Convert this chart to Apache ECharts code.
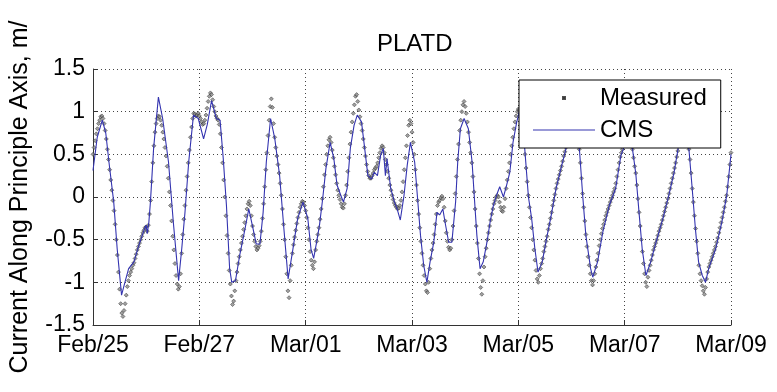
<!DOCTYPE html>
<html>
<head>
<meta charset="utf-8">
<script src="https://cdn.jsdelivr.net/npm/echarts@6/dist/echarts.min.js"></script>
<style>
html,body{margin:0;padding:0;background:#fff;}
#chart{width:777px;height:392px;}
</style>
</head>
<body>
<div id="chart"></div>
<script>
// ---- data (x = days since Feb/25 00:00) ----
const chartTitle = 'PLATD';
const yAxisTitle = 'Current Along Principle Axis, m/';
const xTickLabels = ['Feb/25', 'Feb/27', 'Mar/01', 'Mar/03', 'Mar/05', 'Mar/07', 'Mar/09'];
const seriesNames = ['Measured', 'CMS'];

// Measured: half-hourly samples, starting Feb/25 00:00
const measuredStartDay = 0;
const measuredStepDays = 1 / 48;
const measuredFeb25 = [0.50,0.58,0.66,0.74,0.80,0.86,0.90,0.94,0.95,0.92,0.86,0.78,0.68,0.56,0.44,0.32,0.20,0.08,-0.04,-0.16,-0.32,-0.50,-0.68,-0.88,-1.08,-1.25,-1.36,-1.40,-1.33,-1.25,-1.15,-1.05,-0.98,-0.92,-0.88,-0.84,-0.80,-0.77,-0.72,-0.67,-0.62,-0.58,-0.54,-0.50,-0.46,-0.42,-0.39,-0.36];
const measuredFeb26 = [-0.35,-0.40,-0.33,-0.20,-0.04,0.18,0.40,0.60,0.76,0.86,0.92,0.95,0.94,0.90,0.84,0.76,0.68,0.58,0.48,0.36,0.22,0.06,-0.10,-0.28,-0.46,-0.62,-0.78,-0.92,-1.02,-1.08,-1.05,-0.90,-0.66,-0.44,-0.26,-0.10,0.08,0.24,0.40,0.55,0.70,0.82,0.92,0.98,0.97,0.95,0.96,0.98];
const measuredFeb27 = [0.95,0.92,0.88,0.85,0.86,0.90,0.96,1.04,1.12,1.18,1.22,1.20,1.14,1.06,1.00,0.95,0.92,0.90,0.85,0.74,0.58,0.40,0.20,0.00,-0.22,-0.45,-0.66,-0.86,-1.02,-1.16,-1.26,-1.22,-1.10,-0.98,-0.88,-0.78,-0.70,-0.62,-0.54,-0.46,-0.38,-0.30,-0.22,-0.14,-0.08,-0.05,-0.10,-0.22];
const measuredFeb28 = [-0.34,-0.44,-0.52,-0.58,-0.62,-0.60,-0.57,-0.52,-0.40,-0.25,-0.08,0.12,0.32,0.52,0.72,0.90,1.06,1.15,1.05,0.86,0.70,0.58,0.48,0.38,0.28,0.16,0.02,-0.14,-0.32,-0.50,-0.70,-0.90,-1.10,-1.18,-0.98,-0.80,-0.66,-0.56,-0.47,-0.39,-0.31,-0.24,-0.18,-0.12,-0.08,-0.05,-0.06,-0.10];
const measuredMar01 = [-0.16,-0.24,-0.36,-0.50,-0.64,-0.74,-0.80,-0.84,-0.76,-0.62,-0.52,-0.44,-0.36,-0.26,-0.14,-0.02,0.12,0.26,0.38,0.50,0.60,0.67,0.70,0.64,0.55,0.46,0.36,0.26,0.16,0.08,0.02,-0.03,-0.08,-0.12,-0.13,-0.08,0.02,0.14,0.30,0.46,0.62,0.76,0.88,0.98,1.08,1.18,1.20,1.12];
const measuredMar02 = [1.02,0.94,0.86,0.78,0.68,0.58,0.48,0.38,0.30,0.25,0.22,0.22,0.25,0.28,0.32,0.34,0.36,0.40,0.46,0.52,0.57,0.60,0.58,0.52,0.44,0.38,0.30,0.22,0.14,0.08,0.02,-0.03,-0.07,-0.10,-0.12,-0.14,-0.13,-0.10,-0.04,0.06,0.18,0.32,0.46,0.60,0.72,0.84,0.90,0.86];
const measuredMar03 = [0.76,0.64,0.50,0.32,0.14,-0.04,-0.20,-0.36,-0.52,-0.66,-0.80,-0.92,-1.02,-1.10,-1.12,-1.00,-0.84,-0.72,-0.62,-0.54,-0.44,-0.32,-0.20,-0.10,-0.06,-0.04,-0.01,0.01,-0.02,-0.12,-0.28,-0.42,-0.52,-0.59,-0.62,-0.60,-0.50,-0.34,-0.16,0.04,0.24,0.44,0.62,0.78,0.90,1.00,1.08,1.12];
const measuredMar04 = [1.06,0.98,0.88,0.76,0.64,0.52,0.40,0.24,0.06,-0.14,-0.34,-0.54,-0.72,-0.90,-1.06,-1.14,-0.98,-0.82,-0.70,-0.60,-0.50,-0.42,-0.34,-0.27,-0.20,-0.14,-0.08,-0.04,0.00,0.02,0.00,-0.06,-0.12,-0.16,-0.17,-0.12,-0.02,0.10,0.20,0.30,0.40,0.50,0.60,0.70,0.80,0.88,0.95,1.00];
const measuredMar05 = [1.03,1.02,0.96,0.86,0.74,0.62,0.50,0.34,0.18,0.02,-0.12,-0.24,-0.36,-0.50,-0.62,-0.74,-0.86,-0.96,-1.00,-0.92,-0.84,-0.78,-0.72,-0.64,-0.58,-0.52,-0.46,-0.38,-0.32,-0.25,-0.18,-0.10,-0.04,0.03,0.10,0.16,0.21,0.26,0.31,0.36,0.42,0.48,0.53,0.58,0.66,0.74,0.80,0.85];
const measuredMar06 = [0.88,0.90,0.88,0.84,0.78,0.72,0.64,0.56,0.40,0.22,0.04,-0.12,-0.28,-0.44,-0.58,-0.70,-0.80,-0.90,-0.98,-1.03,-0.98,-0.90,-0.82,-0.74,-0.66,-0.57,-0.50,-0.43,-0.37,-0.32,-0.27,-0.22,-0.18,-0.14,-0.10,-0.06,-0.02,0.02,0.06,0.10,0.16,0.24,0.32,0.40,0.47,0.52,0.56,0.62];
const measuredMar07 = [0.72,0.82,0.88,0.88,0.84,0.76,0.66,0.56,0.46,0.36,0.28,0.14,-0.02,-0.18,-0.34,-0.50,-0.64,-0.78,-0.90,-1.00,-1.05,-0.94,-0.86,-0.80,-0.74,-0.68,-0.62,-0.58,-0.54,-0.50,-0.45,-0.40,-0.36,-0.32,-0.27,-0.22,-0.17,-0.12,-0.07,-0.02,0.04,0.10,0.16,0.22,0.28,0.34,0.40,0.47];
const measuredMar08 = [0.54,0.62,0.72,0.80,0.84,0.84,0.80,0.74,0.68,0.62,0.56,0.44,0.28,0.10,-0.06,-0.22,-0.37,-0.52,-0.66,-0.80,-0.90,-0.98,-1.04,-1.10,-1.14,-1.06,-0.96,-0.88,-0.82,-0.78,-0.74,-0.70,-0.66,-0.62,-0.58,-0.53,-0.48,-0.42,-0.36,-0.30,-0.24,-0.18,-0.12,-0.05,0.02,0.12,0.24,0.38];
const measuredMar09 = [0.52];

// CMS model: [day, value]
const cmsPoints = [
[0.00,0.31],[0.08,0.70],[0.175,0.90],[0.24,0.75],[0.30,0.41],[0.39,-0.06],[0.455,-0.61],[0.537,-1.15],[0.60,-1.00],[0.67,-0.84],[0.77,-0.76],[0.86,-0.57],[0.97,-0.37],[1.00,-0.33],[1.02,-0.43],[1.05,-0.30],[1.08,-0.06],[1.14,0.57],[1.23,1.17],[1.31,0.92],[1.42,0.41],[1.51,-0.29],[1.61,-0.98],[1.67,-0.60],[1.73,-0.18],[1.80,0.41],[1.89,0.96],[1.98,0.92],[2.08,0.68],[2.15,0.85],[2.23,1.13],[2.32,0.92],[2.39,0.90],[2.45,0.45],[2.51,-0.10],[2.57,-0.84],[2.61,-1.00],[2.68,-0.98],[2.76,-0.68],[2.86,-0.37],[2.93,-0.14],[3.01,-0.37],[3.07,-0.55],[3.14,-0.55],[3.20,-0.18],[3.26,0.41],[3.34,0.92],[3.42,0.68],[3.51,0.25],[3.59,-0.37],[3.67,-0.96],[3.76,-0.61],[3.85,-0.25],[3.95,-0.06],[4.04,-0.25],[4.10,-0.61],[4.15,-0.72],[4.20,-0.55],[4.26,-0.33],[4.32,-0.02],[4.38,0.33],[4.46,0.64],[4.53,0.45],[4.59,0.14],[4.66,0.02],[4.71,-0.06],[4.78,0.10],[4.84,0.57],[4.91,0.84],[4.97,0.96],[5.05,0.88],[5.11,0.57],[5.17,0.25],[5.24,0.21],[5.29,0.29],[5.35,0.25],[5.41,0.49],[5.46,0.57],[5.50,0.25],[5.53,0.45],[5.60,0.10],[5.67,-0.06],[5.72,-0.14],[5.78,-0.27],[5.85,0.02],[5.91,0.37],[5.97,0.64],[6.05,0.41],[6.10,0.02],[6.16,-0.45],[6.22,-0.80],[6.28,-1.00],[6.34,-0.76],[6.41,-0.53],[6.47,-0.18],[6.52,-0.21],[6.58,-0.14],[6.62,-0.29],[6.69,-0.53],[6.75,-0.53],[6.82,-0.06],[6.86,0.41],[6.91,0.80],[6.98,0.92],[7.06,0.80],[7.13,0.41],[7.17,0.02],[7.22,-0.45],[7.28,-0.84],[7.34,-0.76],[7.41,-0.53],[7.47,-0.29],[7.53,-0.10],[7.59,0.02],[7.65,0.12],[7.72,0.00],[7.78,0.14],[7.84,0.29],[7.90,0.64],[7.97,0.88],[8.03,1.02],[8.08,0.80],[8.12,0.57],[8.19,0.00],[8.25,-0.25],[8.31,-0.60],[8.37,-0.88],[8.45,-0.76],[8.53,-0.49],[8.62,-0.21],[8.71,0.10],[8.80,0.33],[8.89,0.55],[8.97,0.85],[9.04,0.88],[9.10,0.80],[9.15,0.55],[9.21,0.02],[9.27,-0.45],[9.36,-0.84],[9.40,-0.94],[9.49,-0.76],[9.59,-0.41],[9.71,-0.10],[9.83,0.10],[9.93,0.49],[9.98,0.57],[10.04,0.86],[10.10,0.80],[10.15,0.55],[10.21,0.27],[10.27,-0.18],[10.33,-0.61],[10.40,-0.92],[10.49,-0.76],[10.59,-0.53],[10.72,-0.25],[10.83,0.02],[10.93,0.29],[11.00,0.55],[11.07,0.85],[11.13,0.80],[11.21,0.55],[11.27,0.10],[11.33,-0.37],[11.39,-0.76],[11.46,-0.92],[11.52,-1.00],[11.58,-0.84],[11.71,-0.61],[11.83,-0.29],[11.92,0.02],[12.00,0.50]
];

// ---- build ----
const measuredValues = [].concat(measuredFeb25, measuredFeb26, measuredFeb27, measuredFeb28,
  measuredMar01, measuredMar02, measuredMar03, measuredMar04, measuredMar05, measuredMar06,
  measuredMar07, measuredMar08, measuredMar09);
const measuredData = measuredValues.map((v, i) => [measuredStartDay + i * measuredStepDays, v]);

const FONT = '"Liberation Sans", Arial, Helvetica, sans-serif';
const chart = echarts.init(document.getElementById('chart'), null, {renderer: 'canvas'});
chart.setOption({
  animation: false,
  backgroundColor: '#fff',
  textStyle: {fontFamily: FONT},
  title: {
    text: chartTitle, left: 372, top: 27,
    textStyle: {fontFamily: FONT, fontSize: 24, fontWeight: 'normal', color: '#000'}
  },
  grid: {left: 90, right: 46, top: 69, bottom: 67, containLabel: false},
  legend: {
    orient: 'vertical', left: 519, top: 80,
    padding: [6, 14, 6, 13], itemGap: 8, itemWidth: 62, itemHeight: 14,
    backgroundColor: '#fff', borderColor: '#000', borderWidth: 1, borderRadius: 0,
    textStyle: {fontFamily: FONT, fontSize: 24, color: '#000'},
    data: [
      {name: seriesNames[0], icon: 'path://M0,0M62,14M30,6h2v2h-2z'},
      {name: seriesNames[1], icon: 'path://M0,0M62,14M0,6.4h62v1.2h-62z'}
    ]
  },
  xAxis: {
    type: 'value', min: 0, max: 12, interval: 2,
    axisLine: {show: true, onZero: false, lineStyle: {color: '#333', width: 1}},
    axisTick: {show: true, inside: true, length: 5, lineStyle: {color: '#333'}},
    axisLabel: {
      show: true, margin: 9, fontSize: 23, color: '#000', fontFamily: FONT,
      showMinLabel: true, showMaxLabel: true,
      formatter: v => xTickLabels[Math.round(v / 2)]
    },
    splitLine: {show: true, lineStyle: {color: '#444', width: 1, type: [1, 3]}}
  },
  yAxis: {
    type: 'value', min: -1.5, max: 1.5, interval: 0.5,
    name: yAxisTitle, nameLocation: 'middle', nameRotate: 90, nameGap: 60,
    nameTextStyle: {fontFamily: FONT, fontSize: 25, color: '#000'},
    axisLine: {show: true, lineStyle: {color: '#333', width: 1}},
    axisTick: {show: true, inside: true, length: 5, lineStyle: {color: '#333'}},
    axisLabel: {show: true, margin: 8, fontSize: 23, color: '#000', fontFamily: FONT},
    splitLine: {show: true, lineStyle: {color: '#444', width: 1, type: [1, 3]}}
  },
  series: [
    {
      name: seriesNames[0], type: 'scatter', data: measuredData,
      symbol: 'diamond', symbolSize: 4, z: 2,
      itemStyle: {color: '#8a8a8a', borderColor: '#222', borderWidth: 0.6}
    },
    {
      name: seriesNames[1], type: 'line', data: cmsPoints,
      symbol: 'none', showSymbol: false, z: 3,
      lineStyle: {color: '#3434b0', width: 1.1},
      itemStyle: {color: '#3434b0'}
    }
  ]
});
</script>
</body>
</html>
